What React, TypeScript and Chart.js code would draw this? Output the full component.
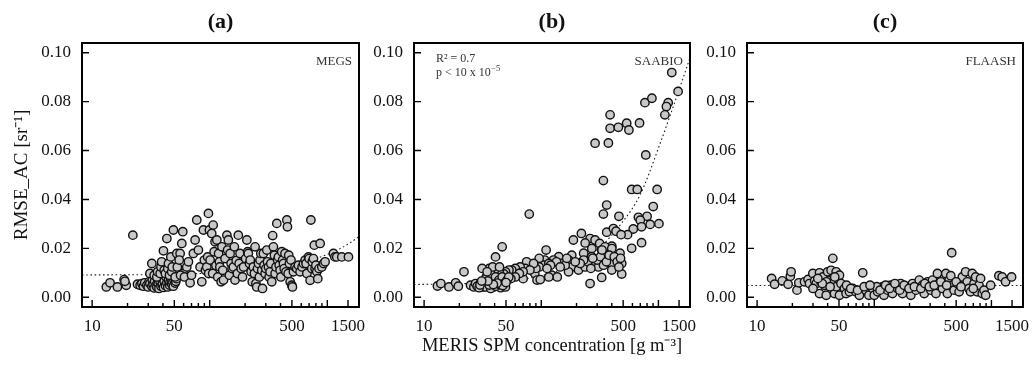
import React, { useEffect, useRef } from 'react';
import { Chart, registerables } from 'chart.js';

Chart.register(...registerables);

const FONT = "'Liberation Serif', 'Times New Roman', Times, serif";

// ---- axes ----
const X_MIN = 8.2;
const X_MAX = 1860;
const Y_MIN = -0.004;
const Y_MAX = 0.104;
const X_TICKS = [10, 20, 30, 40, 50, 60, 70, 80, 90, 100, 200, 300, 400, 500, 600, 700, 800, 900, 1000, 1500];
const X_MAJOR_TICKS = [10, 50, 100, 500, 1000, 1500];
const X_TICK_LABELS = [10, 50, 500, 1500];
const Y_TICKS = [0, 0.02, 0.04, 0.06, 0.08, 0.1];

// ---- text ----
const PANEL_TITLES = ['(a)', '(b)', '(c)'];
const METHOD_NAMES = ['MEGS', 'SAABIO', 'FLAASH'];
const Y_AXIS_TITLE = 'RMSE_AC [sr⁻¹]';
const X_AXIS_TITLE = 'MERIS SPM concentration [g m⁻³]';
const FIT_R2 = 'R² = 0.7';
const FIT_P = 'p < 10 x 10';
const FIT_P_EXP = '−5';

// ---- data: [SPM (g m-3), RMSE_AC (sr-1)] ----
const megsPoints: [number, number][] = [
  [13.2, 0.0042], [14.2, 0.0059], [16.4, 0.0042], [18.7, 0.0072], [19.5, 0.0049], [19, 0.0065], [22.2, 0.0254],
  [24.3, 0.0053], [25.6, 0.0049], [26.5, 0.0056], [27.3, 0.0045], [28, 0.0059], [29.2, 0.0049], [30, 0.0042],
  [30.5, 0.0063], [31, 0.0056], [32.2, 0.0045], [32.5, 0.007], [33, 0.0052], [33.7, 0.0038], [34, 0.0065],
  [35, 0.0049], [35.5, 0.0042], [36, 0.0072], [36.5, 0.0055], [37, 0.0036], [37.9, 0.0062], [38.5, 0.0045],
  [39, 0.0075], [39.5, 0.0052], [40.4, 0.004], [41, 0.0066], [42, 0.0048], [42.5, 0.0083], [43.2, 0.0058],
  [44, 0.0042], [44.6, 0.007], [45.5, 0.005], [46, 0.0062], [46.7, 0.0078], [47.5, 0.0054], [48, 0.0066],
  [49, 0.0045], [49.5, 0.0072], [50.8, 0.0058], [51.5, 0.0065], [52, 0.0076],
  [31, 0.0097], [32.2, 0.0138], [33.7, 0.009], [35.5, 0.0083], [36, 0.0104], [37.9, 0.0097], [38.5, 0.0124],
  [39, 0.0145], [40.4, 0.019], [41, 0.011], [42, 0.0097], [43.2, 0.024], [44, 0.0117], [44.6, 0.0138],
  [45.5, 0.009], [46.7, 0.0165], [47.5, 0.0104], [49.1, 0.0275], [48, 0.0124], [50.8, 0.0083], [52.5, 0.0179],
  [53, 0.0124], [56, 0.0179], [57.9, 0.022], [59, 0.0268], [59.7, 0.0097], [55, 0.0152], [56.5, 0.009],
  [61, 0.0083], [63.8, 0.0124], [65.9, 0.0145], [68.1, 0.0059], [70, 0.009], [72.6, 0.0179], [75.1, 0.0234],
  [77.6, 0.0316], [80.1, 0.0193], [82.8, 0.0124], [85.6, 0.0063], [88.4, 0.0275], [90, 0.0152], [92, 0.011],
  [94.4, 0.0124], [96, 0.0165], [97.5, 0.0343], [99.4, 0.0275], [98, 0.0097],
  [100.8, 0.0152], [104, 0.0261], [106, 0.0097], [107, 0.0295], [109, 0.0186], [111, 0.0227], [113, 0.013],
  [115, 0.0234], [117, 0.0083], [119, 0.0179], [121, 0.0145], [122, 0.0124], [125, 0.0063], [127, 0.0206],
  [129, 0.011], [131, 0.007], [135, 0.0158], [140, 0.0254], [142, 0.0193], [144, 0.0234], [147, 0.009],
  [149, 0.0179], [152, 0.0138], [155, 0.0117], [159, 0.0124], [162, 0.0206], [164, 0.007], [168, 0.015],
  [172, 0.0097], [175, 0.0254], [178, 0.0138], [181, 0.0179], [185, 0.0117], [190, 0.0083], [194, 0.0124],
  [202, 0.0158], [207, 0.0234], [210, 0.0186], [213, 0.0179], [218, 0.0138], [221, 0.0152], [225, 0.0104],
  [230, 0.0063], [235, 0.0124], [240, 0.0097], [243, 0.0206], [247, 0.0056], [251, 0.0042], [255, 0.0117],
  [260, 0.0138], [264, 0.0083], [268, 0.0152], [272, 0.0179], [277, 0.011], [281, 0.0036], [286, 0.0179],
  [290, 0.0131], [296, 0.0097], [300, 0.0117], [306, 0.0193], [310, 0.0145], [316, 0.0124], [320, 0.0083],
  [326, 0.0104], [331, 0.0138], [337, 0.0063], [343, 0.0252], [348, 0.0206], [355, 0.0172], [360, 0.0097],
  [366, 0.0124], [372, 0.0302], [378, 0.0152], [384, 0.0165], [390, 0.0131], [397, 0.011],
  [403, 0.0083], [410, 0.0186], [417, 0.0152], [424, 0.0138], [430, 0.0117], [437, 0.0179], [445, 0.0104],
  [453, 0.0316], [458, 0.0288], [465, 0.0097], [470, 0.0172], [476, 0.0138], [483, 0.0063], [491, 0.0152],
  [499, 0.0049], [505, 0.0042], [515, 0.0104], [532, 0.0124], [550, 0.0117], [568, 0.0131], [587, 0.0104],
  [610, 0.0124], [627, 0.0138], [648, 0.0152], [660, 0.0138], [670, 0.0097], [691, 0.0165], [700, 0.0158],
  [714, 0.0069], [725, 0.0316], [738, 0.0117], [745, 0.0145], [762, 0.0158], [775, 0.0213], [787, 0.0117],
  [800, 0.0131], [814, 0.0104], [830, 0.0076], [850, 0.0117], [869, 0.022], [898, 0.0124], [930, 0.0138],
  [958, 0.0145], [1127, 0.0179], [1160, 0.0165], [1204, 0.0165], [1328, 0.0165], [1513, 0.0165],
];
const megsTrend: [number, number][] = [
  [8.2, 0.0091], [50, 0.0094], [100, 0.0099], [200, 0.0107], [300, 0.0116], [400, 0.0124], [500, 0.0133],
  [700, 0.015], [1000, 0.0175], [1300, 0.02], [1600, 0.0226], [1860, 0.0248],
];

const saabioPoints: [number, number][] = [
  [1300, 0.0919], [1472, 0.0842], [767, 0.0796], [880, 0.0814], [1211, 0.0796], [1170, 0.078], [1135, 0.0746],
  [387, 0.0746], [387, 0.0691], [455, 0.0695], [536, 0.0712], [560, 0.0684], [690, 0.0713], [288, 0.063],
  [374, 0.0631], [780, 0.0582], [339, 0.0477], [591, 0.0441], [660, 0.0441], [975, 0.0441], [362, 0.0377],
  [339, 0.034], [79, 0.034], [460, 0.0331], [903, 0.0371], [675, 0.0327], [800, 0.0331], [700, 0.0315],
  [718, 0.0288], [850, 0.0298], [1010, 0.0301], [610, 0.0279], [545, 0.0256], [591, 0.02], [718, 0.0223],
  [362, 0.0266], [413, 0.0281], [435, 0.027], [480, 0.0256], [400, 0.0209],
  [220, 0.0261], [261, 0.024], [237, 0.0222], [288, 0.0234], [315, 0.022], [328, 0.0193], [350, 0.0206],
  [400, 0.0199], [470, 0.018], [270, 0.0199], [188, 0.0234], [230, 0.018], [270, 0.0166], [182, 0.0172],
  [171, 0.0152], [141, 0.0166], [127, 0.0152], [150, 0.0138], [182, 0.0124], [171, 0.0104], [208, 0.0111],
  [237, 0.0124], [288, 0.0138], [308, 0.0124], [350, 0.0152], [400, 0.0138], [435, 0.0159], [486, 0.0138],
  [486, 0.0095], [400, 0.0111], [328, 0.0081], [261, 0.0056], [107, 0.0152], [105, 0.0131], [116, 0.0138],
  [96, 0.0159], [96, 0.0124], [83, 0.0131], [75, 0.0145], [73, 0.0118], [66, 0.0124], [88, 0.0097],
  [92, 0.007], [98, 0.0072], [123, 0.009], [137, 0.0083], [110, 0.0193], [60, 0.0118], [56, 0.0111],
  [53, 0.0111], [70, 0.0076], [49.5, 0.0104], [48, 0.0095], [43.5, 0.0111],
  [300, 0.0152], [320, 0.0166], [340, 0.0131], [360, 0.0145], [380, 0.0172], [420, 0.0166], [445, 0.0145],
  [460, 0.0124], [475, 0.0159], [330, 0.0193], [250, 0.0145], [265, 0.0118], [275, 0.0159], [230, 0.0152],
  [215, 0.0138], [195, 0.0145], [160, 0.0131], [165, 0.0159], [135, 0.0145], [120, 0.0131], [145, 0.0124],
  [112, 0.0118], [90, 0.0118], [86, 0.0138], [80, 0.0111], [70, 0.0104], [65, 0.0097], [60, 0.0083],
  [55, 0.0076], [47, 0.0063], [44, 0.0097], [40, 0.0111], [36, 0.0118], [34, 0.0083], [116, 0.0083],
  [13, 0.0046], [13.9, 0.0056], [16.3, 0.0042], [18.6, 0.0059], [19.6, 0.0045], [21.9, 0.0104], [24.9, 0.0049],
  [26.6, 0.0042], [27.5, 0.0056], [28.4, 0.0045], [30.4, 0.0059], [31.3, 0.0118], [32, 0.0042], [33.4, 0.0076],
  [34.5, 0.0056], [35.7, 0.0042], [37, 0.0097], [38.1, 0.0063], [38.5, 0.0124], [39.4, 0.0042], [40.7, 0.0165],
  [40.7, 0.0083], [42, 0.0049], [43.5, 0.007], [44, 0.0124], [45, 0.0039], [46.4, 0.0206], [46.4, 0.0083],
  [48, 0.0056], [49.5, 0.0042], [51, 0.007], [52.8, 0.0083], [33.4, 0.0042], [37, 0.0036], [29.5, 0.0039],
  [34.5, 0.0104], [30, 0.005], [36, 0.005], [41, 0.0045], [44, 0.0052], [47, 0.0048], [50, 0.006], [42, 0.0058],
  [39, 0.0052], [35, 0.0066], [31, 0.0066],
];
const saabioTrend: [number, number][] = [
  [8.2, 0.0052], [20, 0.0055], [30, 0.0058], [50, 0.0066], [100, 0.0088], [200, 0.0138], [326, 0.021],
  [480, 0.03], [700, 0.042], [1000, 0.061], [1470, 0.0836], [1860, 0.098],
];

const flaashPoints: [number, number][] = [
  [13.3, 0.0077], [14.1, 0.0053], [16.4, 0.0067], [18.4, 0.0053], [19.2, 0.0086], [19.5, 0.0104], [21.9, 0.0029],
  [22.7, 0.0059], [25.4, 0.0063], [27.2, 0.0073], [28, 0.0056], [29.9, 0.0097], [31, 0.0067], [32, 0.0056],
  [34.1, 0.01], [34.1, 0.0015], [35, 0.0063], [36.4, 0.0083], [37.5, 0.0049], [38.9, 0.0008], [40, 0.0104],
  [41.5, 0.0067], [42.8, 0.011], [44.3, 0.0159], [44.3, 0.0056], [45.8, 0.0015], [47.3, 0.0104], [47.3, 0.0043],
  [48.9, 0.0077], [50.5, 0.009], [50.5, 0.0008], [52, 0.0056], [55.7, 0.0036], [57.5, 0.0015], [61.4, 0.0022],
  [65.5, 0.0036], [69.7, 0.0022], [79.7, 0.01], [74.7, 0.0008], [85, 0.0029], [90, 0.0008], [96.9, 0.0036],
  [100, 0.0008], [107, 0.0022], [118, 0.0043], [121, 0.0008], [130, 0.0029], [138, 0.0049], [143, 0.0015],
  [158, 0.0036], [168, 0.0056], [174, 0.0015], [192, 0.0043], [205, 0.0008], [212, 0.0056], [227, 0.0029],
  [242, 0.007], [258, 0.0049], [267, 0.0015], [285, 0.0063], [304, 0.0029], [314, 0.007], [336, 0.0015],
  [346, 0.0097], [358, 0.0056], [382, 0.0036], [395, 0.0077], [408, 0.0097], [421, 0.0015], [435, 0.007],
  [450, 0.0088], [458, 0.0182], [464, 0.0049], [480, 0.0029], [512, 0.0056], [530, 0.0022], [564, 0.0083],
  [602, 0.0104], [622, 0.0063], [643, 0.0036], [664, 0.0022], [686, 0.0097], [710, 0.0056], [734, 0.0083],
  [757, 0.0022], [783, 0.0049], [808, 0.0077], [835, 0.0015], [864, 0.0029], [893, 0.0008], [985, 0.0049],
  [1158, 0.0088], [1236, 0.0083], [1321, 0.0063], [1486, 0.0083],
  [105, 0.0043], [112, 0.0029], [125, 0.0049], [135, 0.0036], [150, 0.0056], [165, 0.0029], [180, 0.0049],
  [198, 0.0036], [220, 0.0043], [250, 0.0036], [270, 0.0056], [295, 0.0043], [325, 0.0049], [370, 0.0063],
  [415, 0.0049], [500, 0.0063], [550, 0.0043], [700, 0.0036], [58, 0.0049], [63, 0.0036], [72, 0.0029],
  [82, 0.0043], [92, 0.0049], [30, 0.0036], [39, 0.0063], [42, 0.0043], [46, 0.0083], [36, 0.0056], [33, 0.0077],
];
const flaashTrend: [number, number][] = [
  [8.2, 0.0048], [1860, 0.0048],
];

const PANEL_POINTS = [megsPoints, saabioPoints, flaashPoints];
const PANEL_TRENDS = [megsTrend, saabioTrend, flaashTrend];

// ---- layout (pixels) ----
const H = 369;
const PLOT_TOP = 43;
const PLOT_BOTTOM = 307;
const LAYOUT = [
  { left: 0, width: 370, plotLeft: 82, plotRight: 359 },
  { left: 370, width: 335, plotLeft: 414, plotRight: 690 },
  { left: 705, width: 327, plotLeft: 747, plotRight: 1023 },
];

function makeFramePlugin(index: number) {
  return {
    id: 'frame' + index,
    afterDraw(chart: any) {
      const { ctx, chartArea: a, scales } = chart;
      const xs = scales.x;
      const ys = scales.y;
      ctx.save();
      ctx.strokeStyle = '#000';
      ctx.lineWidth = 1.4;
      ctx.beginPath();
      for (const v of X_TICKS) {
        const px = xs.getPixelForValue(v);
        const len = X_MAJOR_TICKS.includes(v) ? 7 : 4;
        ctx.moveTo(px, a.bottom);
        ctx.lineTo(px, a.bottom - len);
      }
      for (const v of Y_TICKS) {
        const py = ys.getPixelForValue(v);
        ctx.moveTo(a.left, py);
        ctx.lineTo(a.left + 7, py);
      }
      ctx.stroke();
      ctx.lineWidth = 2;
      ctx.strokeRect(a.left, a.top, a.right - a.left, a.bottom - a.top);

      ctx.fillStyle = '#111';
      ctx.textBaseline = 'middle';
      ctx.textAlign = 'center';
      ctx.font = `bold 22px ${FONT}`;
      ctx.fillText(PANEL_TITLES[index], (a.left + a.right) / 2, 22);

      ctx.textAlign = 'right';
      ctx.font = `13px ${FONT}`;
      ctx.fillStyle = '#333';
      ctx.fillText(METHOD_NAMES[index], a.right - 7, 62);

      if (index === 1) {
        ctx.textAlign = 'left';
        ctx.font = `12px ${FONT}`;
        const x0 = a.left + 22;
        ctx.fillText(FIT_R2, x0, 59);
        ctx.fillText(FIT_P, x0, 73);
        const w = ctx.measureText(FIT_P).width;
        ctx.font = `8.5px ${FONT}`;
        ctx.fillText(FIT_P_EXP, x0 + w + 0.5, 69);
      }
      ctx.restore();
    },
  };
}

function Panel({ index }: { index: number }) {
  const ref = useRef<HTMLCanvasElement | null>(null);
  const L = LAYOUT[index];
  useEffect(() => {
    const canvas = ref.current;
    if (!canvas) return;
    const points = PANEL_POINTS[index];
    const trend = PANEL_TRENDS[index];
    const chart = new Chart(canvas, {
      type: 'scatter',
      data: {
        datasets: [
          {
            data: points.map(([x, y]) => ({ x, y })),
            pointRadius: 4.2,
            pointBackgroundColor: '#c8c8c8',
            pointBorderColor: '#111',
            pointBorderWidth: 1.4,
            showLine: false,
            order: 1,
          },
          {
            data: trend.map(([x, y]) => ({ x, y })),
            showLine: true,
            pointRadius: 0,
            borderColor: '#222',
            borderWidth: 1.1,
            borderDash: [1.6, 2.6],
            cubicInterpolationMode: 'monotone',
            fill: false,
            order: 2,
          } as any,
        ],
      },
      options: {
        responsive: false,
        animation: false,
        devicePixelRatio: 1,
        layout: {
          padding: { top: PLOT_TOP, right: L.left + L.width - L.plotRight, left: 0, bottom: 0 },
        },
        plugins: {
          legend: { display: false },
          tooltip: { enabled: false },
          title: { display: false },
        },
        scales: {
          x: {
            type: 'logarithmic',
            min: X_MIN,
            max: X_MAX,
            grid: { display: false },
            border: { display: false },
            afterBuildTicks: (s: any) => {
              s.ticks = X_TICKS.map((v) => ({ value: v }));
            },
            afterFit: (s: any) => {
              s.height = H - PLOT_BOTTOM;
              s.paddingLeft = 0;
              s.paddingRight = 0;
            },
            ticks: {
              autoSkip: false,
              maxRotation: 0,
              minRotation: 0,
              padding: 1,
              color: '#111',
              font: { family: FONT, size: 17 },
              callback: (v: any) => (X_TICK_LABELS.includes(Number(v)) ? String(v) : ''),
            },
            title: index === 1
              ? { display: true, text: X_AXIS_TITLE, color: '#111', font: { family: FONT, size: 18.5 }, padding: { top: 0, bottom: 12 } }
              : { display: false },
          },
          y: {
            type: 'linear',
            min: Y_MIN,
            max: Y_MAX,
            grid: { display: false },
            border: { display: false },
            afterBuildTicks: (s: any) => {
              s.ticks = Y_TICKS.map((v) => ({ value: v }));
            },
            afterFit: (s: any) => {
              s.width = L.plotLeft - L.left;
              s.paddingTop = 0;
              s.paddingBottom = 0;
            },
            ticks: {
              padding: 3,
              color: '#111',
              font: { family: FONT, size: 17 },
              callback: (v: any) => Number(v).toFixed(2),
            },
            title: index === 0
              ? { display: true, text: Y_AXIS_TITLE, color: '#111', font: { family: FONT, size: 19 }, padding: { top: 11, bottom: 0 } }
              : { display: false },
          },
        },
      } as any,
      plugins: [makeFramePlugin(index)],
    });
    return () => chart.destroy();
  }, [index]);
  return (
    <canvas
      ref={ref}
      width={L.width}
      height={H}
      style={{ position: 'absolute', left: L.left, top: 0, width: L.width, height: H }}
    />
  );
}

export default function App() {
  return (
    <div style={{ position: 'absolute', left: 0, top: 0, width: 1032, height: H, background: '#fff', overflow: 'hidden' }}>
      <Panel index={0} />
      <Panel index={1} />
      <Panel index={2} />
    </div>
  );
}
